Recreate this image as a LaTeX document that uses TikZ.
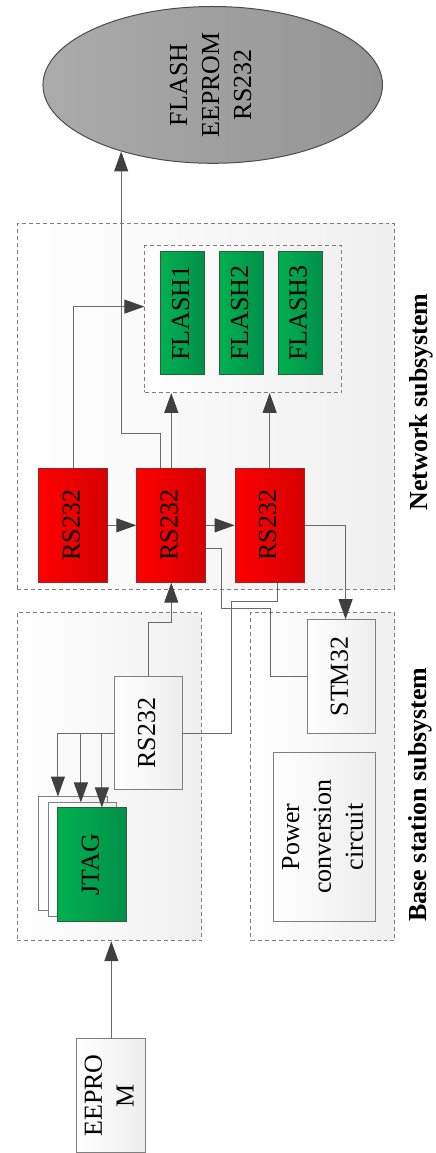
\documentclass[tikz,border=0pt]{standalone}
\usepackage{fontspec}
\setmainfont{Liberation Serif}
\usepackage{graphicx}
\usetikzlibrary{shapes,arrows.meta,calc}
\definecolor{linegray}{HTML}{6A6A6A}
\definecolor{tipgray}{HTML}{404040}
\definecolor{boxgray}{HTML}{7F7F7F}
\definecolor{redL}{HTML}{FF0000}
\definecolor{redR}{HTML}{D60000}
\definecolor{redD}{HTML}{8E2A2A}
\definecolor{greenL}{HTML}{00B050}
\definecolor{greenR}{HTML}{00904A}
\definecolor{greenD}{HTML}{2F5F3A}
\newcommand{\vtext}[1]{\rotatebox{90}{\begin{tabular}{@{}c@{}}#1\end{tabular}}}

\begin{document}
\begin{tikzpicture}[
    x=1pt, y=-1pt,
    every node/.style={font=\fontsize{26}{32}\selectfont, inner sep=0pt},
    group/.style={rectangle, draw=boxgray, line width=0.9pt, dash pattern=on 4pt off 3pt, left color=white, right color=black!6},
    whitebox/.style={rectangle, draw=boxgray, line width=1pt, left color=white, right color=black!7, minimum width=68pt, minimum height=114pt},
    redbox/.style={rectangle, draw=redD, line width=1pt, left color=redL, right color=redR, minimum width=69pt, minimum height=114pt},
    greenbox/.style={rectangle, draw=greenD, line width=1pt, left color=greenL, right color=greenR},
    flashbox/.style={greenbox, minimum width=44pt, minimum height=123pt},
    conn/.style={draw=linegray, line width=1pt},
    arr/.style={conn, -{Triangle[length=20pt, width=14pt, color=tipgray]}}
]
% groups
\node[group, minimum width=378pt, minimum height=366pt] (net) at (206,407) {};
\node[group, minimum width=197pt, minimum height=147pt] (flashgrp) at (243.5,319.5) {};
\node[group, minimum width=185pt, minimum height=329pt] (basel) at (109.5,777.5) {};
\node[group, minimum width=144pt, minimum height=329pt] (baser) at (323,777.5) {};

% memory
\node[ellipse, draw=black!70, line width=1pt, left color=black!33, right color=black!42,
      minimum width=340pt, minimum height=157pt] (mem) at (213,85) {\vtext{FLASH\\EEPROM\\RS232}};

% network subsystem
\node[flashbox] (flash1) at (183,313.5) {\vtext{FLASH1}};
\node[flashbox] (flash2) at (242,313.5) {\vtext{FLASH2}};
\node[flashbox] (flash3) at (300.5,313.5) {\vtext{FLASH3}};
\node[redbox] (red1) at (73.5,526) {\vtext{RS232}};
\node[redbox] (red2) at (171.5,526) {\vtext{RS232}};
\node[redbox] (red3) at (270,526) {\vtext{RS232}};

% base station subsystem
\node[whitebox] (rsw) at (149,734) {\vtext{RS232}};
\node[whitebox, minimum width=69pt] (jt1) at (73.5,855) {};
\node[whitebox, minimum width=68pt] (jt2) at (83,861) {};
\node[greenbox, minimum width=69pt, minimum height=114pt] (jtag) at (92.5,866) {\vtext{JTAG}};
\node[whitebox] (stm) at (342,677.5) {\vtext{STM32}};
\node[whitebox, minimum width=102pt, minimum height=170pt] (power) at (325,838) {\vtext{Power\\conversion\\circuit}};
\node[whitebox, minimum width=69pt] (eeprom) at (111.5,1097) {\vtext{EEPRO\\M}};

% labels
\node[font=\fontsize{26}{32}\selectfont\bfseries] (netlabel) at (422,402.5) {\rotatebox{90}{Network subsystem}};
\node[font=\fontsize{26}{32}\selectfont\bfseries] (baselabel) at (421,795.5) {\rotatebox{90}{Base station subsystem}};

% connectors
\draw[arr] (red1) -- (red2);
\draw[arr] (red2) -- (red3);
\draw[arr] (red1.north) |- ([yshift=12.5pt]flashgrp.west);
\draw[arr] ([xshift=-10.5pt]red2.north) -- ++(0,-34) -| (mem.216);
\draw[arr] (red2.north) -- (red2.north |- flashgrp.south);
\draw[arr] (red3.north) -- (red3.north |- flashgrp.south);
\draw[arr] (red3.east) -| ([xshift=4pt]stm.north);
\draw[conn] ([yshift=-23pt]red2.east) -- ++(15,0) -- ++(0,60) -- ++(49,0) |- (stm.west);
\draw[conn] ([xshift=8pt]red3.south) -- ++(0,19) -- ++(-46,0) |- (rsw.east);
\draw[arr] (rsw.north) -- ++(0,-53) -| (red2.south);
\draw[arr] (rsw.west) -| ([xshift=-15.5pt]jt1.north);
\draw[arr] (rsw.west) -| ([xshift=-2pt]jt2.north);
\draw[arr] (rsw.west) -| ([xshift=9.5pt]jtag.north);
\draw[arr] (eeprom.north) -- (eeprom.north |- basel.south);

\useasboundingbox (0,0) rectangle (436,1153);
\end{tikzpicture}
\end{document}
